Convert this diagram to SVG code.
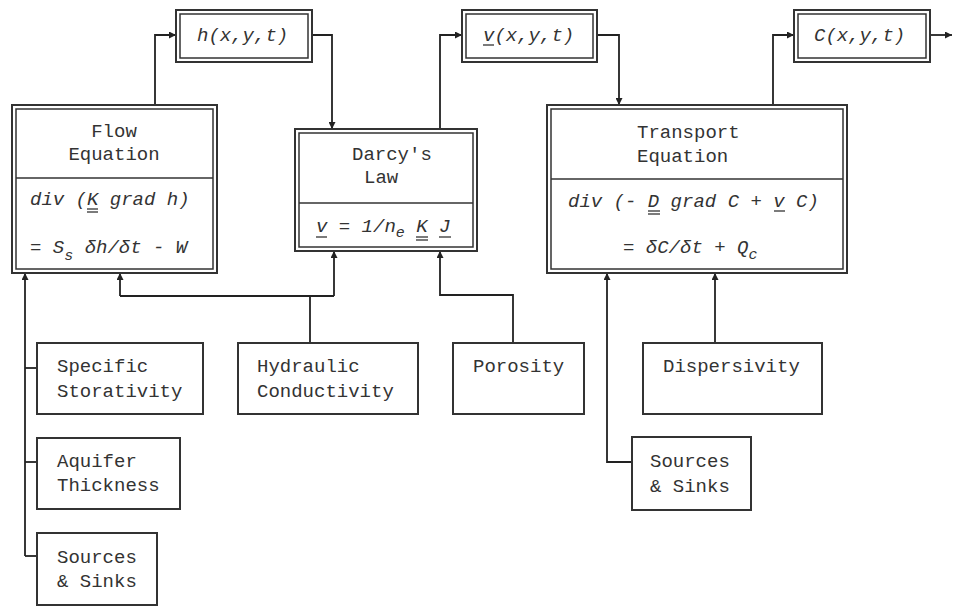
<svg xmlns="http://www.w3.org/2000/svg" width="954" height="607" viewBox="0 0 954 607">
<defs>
<marker id="arr" viewBox="0 0 10 10" refX="10" refY="5" markerWidth="8" markerHeight="7" markerUnits="userSpaceOnUse" orient="auto">
<path d="M0,0 L10,5 L0,10 Z" fill="#222"/>
</marker>
<style>
.t{font-family:"Liberation Mono","DejaVu Sans Mono",monospace;font-size:19px;fill:#333}
.i{font-style:italic}
.sub{font-size:15px}
.o{fill:none;stroke:#333;stroke-width:2}
.n{fill:none;stroke:#333;stroke-width:1.5}
.c{fill:none;stroke:#222;stroke-width:1.8}
.u{stroke:#333;stroke-width:1.3}
</style>
</defs>
<rect width="954" height="607" fill="#fff"/>

<g id="connectors" class="c">
<polyline points="155,105 155,35 176,35" marker-end="url(#arr)"/>
<polyline points="312,35 332,35 332,129" marker-end="url(#arr)"/>
<polyline points="440,129 440,35 462,35" marker-end="url(#arr)"/>
<polyline points="597,35 619,35 619,105" marker-end="url(#arr)"/>
<polyline points="773,105 773,35 794,35" marker-end="url(#arr)"/>
<polyline points="930,35 952,35" marker-end="url(#arr)"/>
<polyline points="25,556 25,273" marker-end="url(#arr)"/>
<line x1="25" y1="368" x2="37" y2="368"/>
<line x1="25" y1="462" x2="37" y2="462"/>
<line x1="25" y1="556" x2="37" y2="556"/>
<line x1="310" y1="343" x2="310" y2="296"/>
<line x1="120" y1="296" x2="334" y2="296"/>
<polyline points="120,296 120,273" marker-end="url(#arr)"/>
<polyline points="334,296 334,251" marker-end="url(#arr)"/>
<polyline points="513,343 513,295 440,295 440,251" marker-end="url(#arr)"/>
<polyline points="632,462 607,462 607,273" marker-end="url(#arr)"/>
<polyline points="715,343 715,273" marker-end="url(#arr)"/>
</g>

<g id="h-out">
<rect class="o" x="176" y="10" width="136" height="52"/>
<rect class="n" x="180" y="14" width="128" height="44"/>
<text class="t i" x="197" y="41">h(x,y,t)</text>
</g>
<g id="v-out">
<rect class="o" x="462" y="10" width="135" height="52"/>
<rect class="n" x="466" y="14" width="127" height="44"/>
<text class="t i" x="483" y="41">v(x,y,t)</text>
<line class="u" x1="483" y1="45" x2="494" y2="45"/>
</g>
<g id="c-out">
<rect class="o" x="794" y="10" width="136" height="52"/>
<rect class="n" x="798" y="14" width="128" height="44"/>
<text class="t i" x="814" y="41">C(x,y,t)</text>
</g>

<g id="flow-equation">
<rect class="o" x="12" y="105" width="205" height="168"/>
<rect class="n" x="16" y="109" width="197" height="160"/>
<line class="n" x1="16" y1="178" x2="213" y2="178"/>
<text class="t" x="114" y="137" text-anchor="middle">Flow</text>
<text class="t" x="114" y="160" text-anchor="middle">Equation</text>
<text class="t i" x="30" y="205">div (K grad h)</text>
<line class="u" x1="87" y1="209" x2="98" y2="209"/>
<line class="u" x1="87" y1="212" x2="98" y2="212"/>
<text class="t i" x="30" y="253">= S<tspan class="sub" dy="7">s</tspan><tspan dy="-7"> δh/δt - W</tspan></text>
</g>

<g id="darcys-law">
<rect class="o" x="295" y="129" width="182" height="122"/>
<rect class="n" x="299" y="133" width="174" height="114"/>
<line class="n" x1="299" y1="203" x2="473" y2="203"/>
<text class="t" x="352" y="160">Darcy's</text>
<text class="t" x="364" y="183">Law</text>
<text class="t i" x="316" y="232">v = 1/n<tspan class="sub" dy="5">e</tspan><tspan dy="-5"> K J</tspan></text>
<line class="u" x1="316" y1="237" x2="327" y2="237"/>
<line class="u" x1="416" y1="237" x2="428" y2="237"/>
<line class="u" x1="416" y1="240" x2="428" y2="240"/>
<line class="u" x1="439" y1="237" x2="451" y2="237"/>
</g>

<g id="transport-equation">
<rect class="o" x="547" y="105" width="300" height="168"/>
<rect class="n" x="551" y="109" width="292" height="160"/>
<line class="n" x1="551" y1="179" x2="843" y2="179"/>
<text class="t" x="637" y="138">Transport</text>
<text class="t" x="637" y="162">Equation</text>
<text class="t i" x="568" y="207">div (- D grad C + v C)</text>
<line class="u" x1="648" y1="211" x2="660" y2="211"/>
<line class="u" x1="648" y1="214" x2="660" y2="214"/>
<line class="u" x1="774" y1="211" x2="785" y2="211"/>
<text class="t i" x="623" y="253">= δC/δt + Q<tspan class="sub" dy="6">c</tspan></text>
</g>

<g id="specific-storativity">
<rect class="o" x="37" y="343" width="166" height="71"/>
<text class="t" x="57" y="372">Specific</text>
<text class="t" x="57" y="397">Storativity</text>
</g>
<g id="hydraulic-conductivity">
<rect class="o" x="238" y="343" width="180" height="71"/>
<text class="t" x="257" y="372">Hydraulic</text>
<text class="t" x="257" y="397">Conductivity</text>
</g>
<g id="porosity">
<rect class="o" x="453" y="343" width="131" height="71"/>
<text class="t" x="473" y="372">Porosity</text>
</g>
<g id="dispersivity">
<rect class="o" x="643" y="343" width="179" height="71"/>
<text class="t" x="663" y="372">Dispersivity</text>
</g>
<g id="aquifer-thickness">
<rect class="o" x="37" y="438" width="143" height="71"/>
<text class="t" x="57" y="467">Aquifer</text>
<text class="t" x="57" y="491">Thickness</text>
</g>
<g id="sources-sinks-flow">
<rect class="o" x="37" y="533" width="120" height="72"/>
<text class="t" x="57" y="563">Sources</text>
<text class="t" x="57" y="587">&amp; Sinks</text>
</g>
<g id="sources-sinks-transport">
<rect class="o" x="632" y="437" width="119" height="73"/>
<text class="t" x="650" y="467">Sources</text>
<text class="t" x="650" y="492">&amp; Sinks</text>
</g>
</svg>
